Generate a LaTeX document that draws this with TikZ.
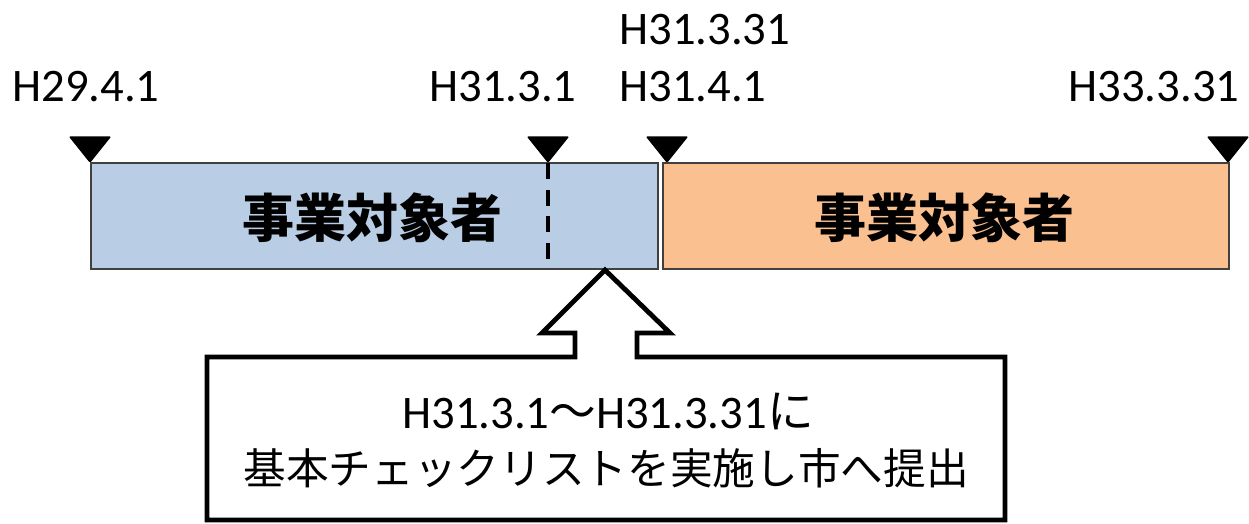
\documentclass[tikz,border=0pt]{standalone}
\usepackage{fontspec}
\setmainfont{Carlito}
\newfontfamily\cjk{Noto Sans CJK JP}
\definecolor{blueF}{HTML}{B9CDE5}
\definecolor{orangeF}{HTML}{FAC090}
\definecolor{edge}{HTML}{404040}
\begin{document}
\begin{tikzpicture}[x=0.75pt,y=-0.75pt,
  lbl/.style={font=\fontsize{35}{42}\selectfont, inner sep=0pt},
  period/.style={draw=edge, line width=1.3pt, anchor=north west, minimum height=79.5pt, inner sep=0pt},
  boxtext/.style={font=\cjk\bfseries\fontsize{39}{44}\selectfont, inner sep=0pt},
  marker/.style={fill=black, rounded corners=1pt},
  dashline/.style={draw=black, line width=3pt, dash pattern=on 12pt off 8pt},
  callout/.style={draw=black, line width=3.6pt, miter limit=10},
  notetext/.style={inner sep=0pt}]
\useasboundingbox (0,0) rectangle (1249,524);
% periods
\node[period, fill=blueF, minimum width=425.25pt] (blue) at (90,162) {};
\node[period, fill=orangeF, minimum width=424.5pt] (orange) at (662,162) {};
\node[boxtext] (bluetxt) at (372,218) {事業対象者};
\node[boxtext] (orangetxt) at (944,218) {事業対象者};
% markers
\coordinate (m1) at (90,163);
\coordinate (m2) at (548,163);
\coordinate (m3) at (667,163);
\coordinate (m4) at (1228,163);
\foreach \c in {m1,m2,m3,m4}
  \fill[marker] ([xshift=-16pt,yshift=20pt]\c) -- ([xshift=16pt,yshift=20pt]\c) -- (\c) -- cycle;
% dashed split
\coordinate (d2) at (548,267);
\draw[dashline] (m2) -- (d2);
% labels
\node[lbl] (l1) at (86,87) {H29.4.1};
\node[lbl] (l2) at (503,87) {H31.3.1};
\node[lbl, anchor=west] (l3a) at (619,30) {H31.3.31};
\node[lbl, anchor=west] (l3b) at (619,87) {H31.4.1};
\node[lbl] (l4) at (1154,87) {H33.3.31};
% callout
\coordinate (tip) at (605,270);
\draw[callout] (207,357) -- (575,357) -- (575,333) -- (542,333) -- (tip) -- (670,333) -- (637,333) -- (637,357) -- (1005,357) -- (1005,520) -- (207,520) -- cycle;
\node[notetext, font=\fontsize{35}{42}\selectfont] (note1) at (608,412) {H31.3.1{\cjk ～}H31.3.31{\cjk に}};
\node[notetext, font=\cjk\fontsize{32}{40}\selectfont] (note2) at (606,468) {基本チェックリストを実施し市へ提出};
\end{tikzpicture}
\end{document}
